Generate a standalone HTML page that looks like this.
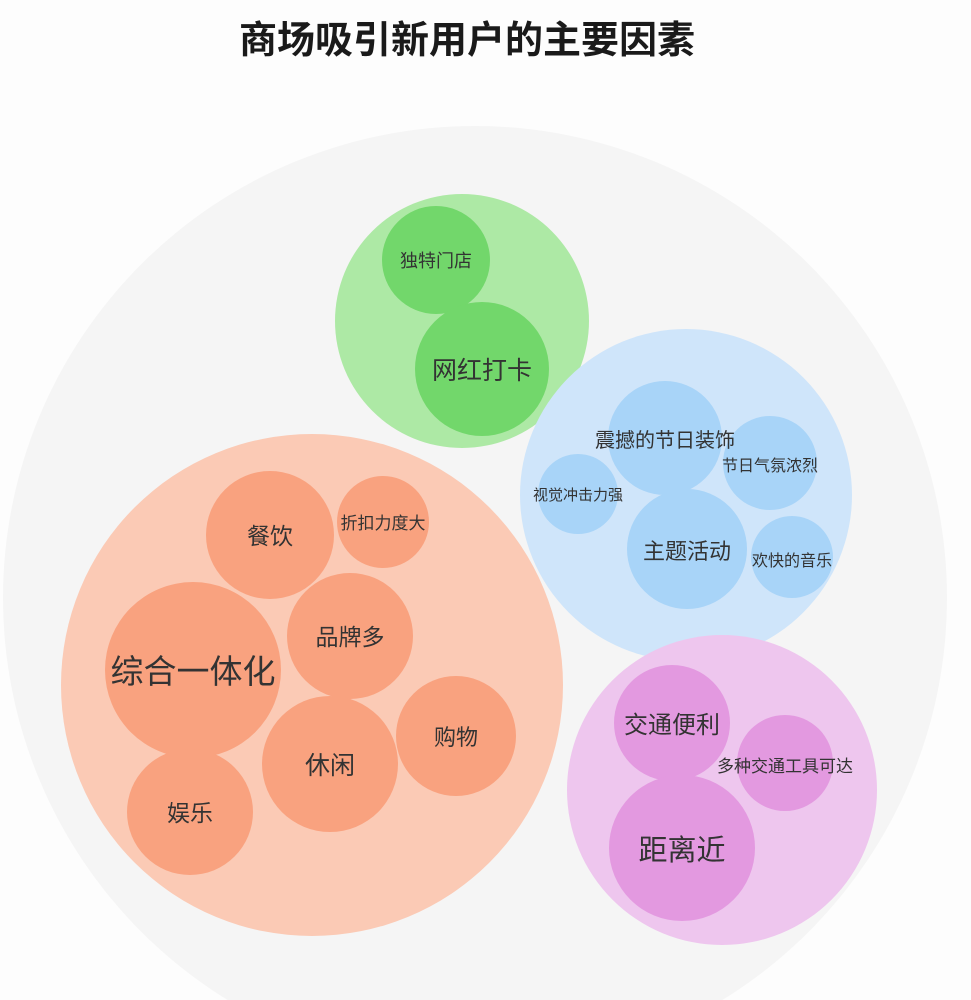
<!DOCTYPE html>
<html><head><meta charset="utf-8"><style>
html,body{margin:0;padding:0;background:#fdfdfd;width:971px;height:1000px;overflow:hidden;}
svg{display:block;font-family:"Liberation Sans","Noto Sans CJK SC",sans-serif;}
</style></head><body>
<svg width="971" height="1000" viewBox="0 0 971 1000">
<rect width="971" height="1000" fill="#fdfdfd"/>
<circle cx="475" cy="598" r="472" fill="#f5f5f5"/>
<text x="467" y="53" font-size="38" font-weight="bold" text-anchor="middle" fill="#1a1a1a">商场吸引新用户的主要因素</text>
<g text-anchor="middle" fill="#333">
<circle cx="462" cy="321" r="127" fill="#ade9a5"/>
<circle cx="436" cy="260" r="54" fill="#72d76b"/>
<circle cx="482" cy="369" r="67" fill="#72d76b"/>
<text x="436" y="267" font-size="18">独特门店</text>
<text x="482" y="379" font-size="25">网红打卡</text>

<circle cx="686" cy="495" r="166" fill="#cfe5fa"/>
<g fill="#a8d4f8">
<circle cx="665" cy="438" r="57"/><circle cx="770" cy="463" r="47"/><circle cx="578" cy="494" r="40"/><circle cx="687" cy="549" r="60"/><circle cx="792" cy="557" r="41"/>
</g>
<text x="665" y="447" font-size="20">震撼的节日装饰</text>
<text x="770" y="471" font-size="16">节日气氛浓烈</text>
<text x="578" y="500" font-size="15">视觉冲击力强</text>
<text x="687" y="559" font-size="22">主题活动</text>
<text x="792" y="566" font-size="16">欢快的音乐</text>

<circle cx="312" cy="685" r="251" fill="#fbcab5"/>
<g fill="#f9a27f">
<circle cx="270" cy="535" r="64"/><circle cx="383" cy="522" r="46"/><circle cx="193" cy="670" r="88"/><circle cx="350" cy="636" r="63"/><circle cx="456" cy="736" r="60"/><circle cx="330" cy="764" r="68"/><circle cx="190" cy="812" r="63"/>
</g>
<text x="270" y="544" font-size="23">餐饮</text>
<text x="383" y="529" font-size="17">折扣力度大</text>
<text x="193" y="683" font-size="33">综合一体化</text>
<text x="350" y="645" font-size="23">品牌多</text>
<text x="456" y="745" font-size="22">购物</text>
<text x="330" y="774" font-size="25">休闲</text>
<text x="190" y="821" font-size="23">娱乐</text>

<circle cx="722" cy="790" r="155" fill="#eec6ee"/>
<g fill="#e399e0">
<circle cx="672" cy="723" r="58"/><circle cx="785" cy="763" r="48"/><circle cx="682" cy="848" r="73"/>
</g>
<text x="672" y="733" font-size="24">交通便利</text>
<text x="785" y="772" font-size="17">多种交通工具可达</text>
<text x="682" y="860" font-size="29">距离近</text>
</g>
</svg>
</body></html>
